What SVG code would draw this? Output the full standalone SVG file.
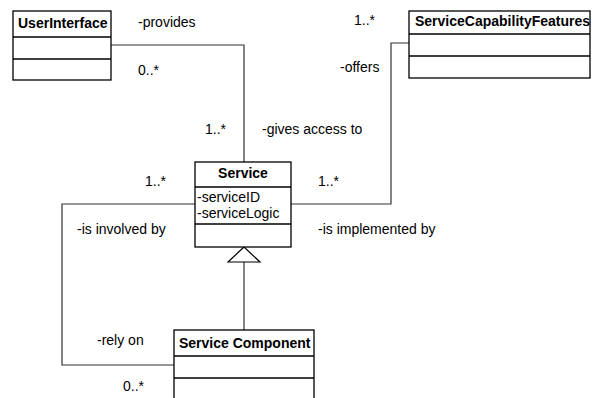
<svg xmlns="http://www.w3.org/2000/svg" width="598" height="398" viewBox="0 0 598 398">
<style>
.box{fill:#fff;stroke:#000;stroke-width:1.3}
.ln{fill:none;stroke:#333;stroke-width:1.2}
text{font-family:"Liberation Sans",Arial,sans-serif;font-size:14px;fill:#000}
.b{font-weight:bold}
</style>
<rect width="598" height="398" fill="#fff"/>
<g id="connectors">
<polyline class="ln" points="111,45 244,45 244,162"/>
<polyline class="ln" points="409,43 391,43 391,204 291,204"/>
<polyline class="ln" points="195,204 62,204 62,365 174,365"/>
<line class="ln" x1="244" y1="262" x2="244" y2="330"/>
<polygon points="244,247 228,262 260,262" fill="#fff" stroke="#000" stroke-width="1.2"/>
</g>
<g id="labels">
<text x="138" y="27">-provides</text>
<text x="138" y="75">0..*</text>
<text x="205" y="134">1..*</text>
<text x="262" y="134">-gives access to</text>
<text x="354" y="25">1..*</text>
<text x="340" y="72">-offers</text>
<text x="145" y="186">1..*</text>
<text x="77" y="234">-is involved by</text>
<text x="318" y="186">1..*</text>
<text x="318" y="234">-is implemented by</text>
<text x="97" y="345">-rely on</text>
<text x="123" y="391">0..*</text>
</g>
<g id="UserInterface">
<rect class="box" x="13" y="11" width="98" height="69"/>
<line class="box" x1="13" y1="37" x2="111" y2="37"/>
<line class="box" x1="13" y1="59" x2="111" y2="59"/>
<text class="b" x="18" y="28">UserInterface</text>
</g>
<g id="ServiceCapabilityFeatures">
<rect class="box" x="409" y="11" width="181" height="67"/>
<line class="box" x1="409" y1="34" x2="590" y2="34"/>
<line class="box" x1="409" y1="56" x2="590" y2="56"/>
<text class="b" x="415" y="26">ServiceCapabilityFeatures</text>
</g>
<g id="Service">
<rect class="box" x="195" y="162" width="96" height="85"/>
<line class="box" x1="195" y1="187" x2="291" y2="187"/>
<line class="box" x1="195" y1="224" x2="291" y2="224"/>
<text class="b" x="243" y="178" text-anchor="middle">Service</text>
<text x="197" y="202">-serviceID</text>
<text x="197" y="218">-serviceLogic</text>
</g>
<g id="ServiceComponent">
<rect class="box" x="174" y="330" width="140" height="80"/>
<line class="box" x1="174" y1="356" x2="314" y2="356"/>
<line class="box" x1="174" y1="378" x2="314" y2="378"/>
<text class="b" x="179" y="348">Service Component</text>
</g>
</svg>
